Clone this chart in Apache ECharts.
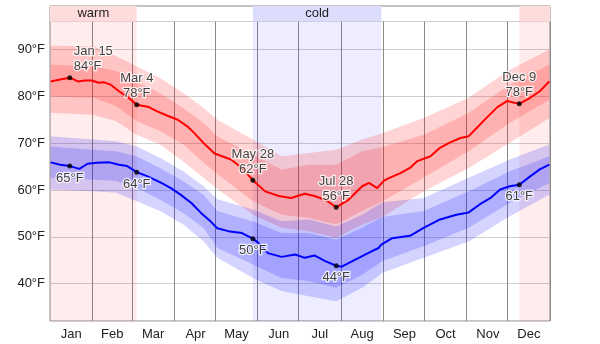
<!DOCTYPE html>
<html>
<head>
<meta charset="utf-8">
<script src="https://cdn.jsdelivr.net/npm/echarts@6/dist/echarts.min.js"></script>
<style>
html,body{margin:0;padding:0;background:#fff;}
#chart{width:600px;height:344px;}
</style>
</head>
<body>
<div id="chart"></div>
<script>
// ---------- data ----------
const months = ['Jan','Feb','Mar','Apr','May','Jun','Jul','Aug','Sep','Oct','Nov','Dec'];
const monthLengths = [31,29,31,30,31,30,31,31,30,31,30,31];
const yTicks = [40,50,60,70,80,90];

// average daily high (day index 0 = Jan 1)
const highDays = [0,7,14,20,25,30,35,39,44,50,57,63,71,78,86,93,100,105,113,120,132,140,148,157,167,176,186,193,201,209,218,228,233,239,244,248,256,263,268,278,285,292,300,306,312,319,327,334,343,351,358,365];
const highTemps = [83.2,83.6,84.0,83.2,83.4,83.4,82.9,83.0,82.5,81.1,79.7,78.2,77.8,76.8,75.8,75.0,73.6,72.2,69.7,67.8,66.5,64.7,62.1,59.7,58.7,58.3,59.2,58.7,57.9,56.3,57.9,60.8,61.5,60.4,62.0,62.6,63.6,64.7,66.1,67.2,69.0,70.1,71.1,71.5,73.3,75.4,77.7,79.0,78.4,79.7,81.1,83.2];

// average daily low
const lowDays = [0,7,14,21,27,34,43,50,56,63,71,81,88,95,103,110,117,122,130,140,148,152,159,169,179,186,193,201,209,213,223,233,240,242,250,263,273,285,297,306,314,322,329,336,343,351,358,365];
const lowTemps = [65.9,65.4,65.1,64.5,65.6,65.8,65.9,65.4,65.1,63.8,62.9,61.5,60.4,59.0,57.2,55.1,53.3,51.8,51.2,50.8,49.6,48.7,46.5,45.7,46.2,45.5,46.0,44.8,43.8,43.6,45.1,46.6,47.6,48.3,49.7,50.2,51.9,53.7,54.7,55.2,56.9,58.3,60.1,60.8,61.1,62.9,64.4,65.4];

// percentile bands (10th / 25th / 75th / 90th)
const bandDays = [0,31,48,63,80,97,112,122,148,169,189,209,228,243,273,306,336,365];
const highP90 = [90.8,90.7,88.6,86.4,83.9,80.7,77.5,75.0,70.8,67.2,67.9,68.6,70.8,72.2,75.4,79.7,85.7,90.0];
const highP75 = [86.8,86.4,85.4,83.2,80.7,77.5,74.3,71.5,67.6,64.4,65.4,65.4,68.3,69.2,71.8,76.5,82.5,86.8];
const highP25 = [80.0,79.7,77.9,74.7,72.6,69.7,65.8,63.4,57.6,54.7,54.0,52.6,55.5,57.6,62.6,68.3,74.3,79.3];
const highP10 = [76.5,76.1,74.7,71.8,69.7,66.1,62.6,60.2,54.7,51.9,51.2,49.8,52.6,54.2,59.7,64.7,70.1,75.4];
const lowP90 = [71.5,70.8,70.4,69.3,66.9,64.0,60.8,58.0,55.8,53.3,53.7,52.2,54.7,57.4,58.3,62.6,66.5,69.7];
const lowP75 = [69.3,68.6,68.3,67.2,64.7,61.9,59.0,55.5,53.3,50.8,50.8,49.4,51.9,54.3,55.5,59.7,64.0,67.2];
const lowP25 = [62.6,62.2,61.9,60.4,57.9,55.1,51.8,47.6,44.1,41.2,40.5,39.1,41.9,44.8,48.0,51.9,57.2,61.5];
const lowP10 = [60.1,59.7,59.4,57.6,55.5,52.6,49.0,45.5,41.2,38.4,37.3,36.2,39.1,42.3,45.5,49.0,54.4,59.0];

// annotated days
const markerDates = ['Jan 15','Mar 4','May 28','Jul 28','Dec 9'];
const markerHighLabels = [84,78,62,56,78];
const markerLowLabels = [65,64,50,44,61];

// seasons
const warmSeason = {name:'warm', from:'Dec 9', to:'Mar 4'};
const coldSeason = {name:'cold', from:'May 28', to:'Aug 30'};

// ---------- helpers ----------
const dayLabels = [];
const monthStartIdx = [];
const monthMidIdx = [];
{
  let c = 0;
  months.forEach((m, i) => {
    monthStartIdx.push(c);
    monthMidIdx.push(c + Math.floor(monthLengths[i] / 2));
    for (let d = 1; d <= monthLengths[i]; d++) dayLabels.push(m + ' ' + d);
    c += monthLengths[i];
  });
}
const nDays = dayLabels.length;
const idxOf = s => dayLabels.indexOf(s);
const zip = (xs, ys) => xs.map((x, i) => [x, ys[i]]);
const diff = (a, b, xs) => xs.map((x, i) => [x, +(a[i] - b[i]).toFixed(2)]);
const valueAt = (xs, ys, d) => ys[xs.indexOf(d)];

const X0 = -0.5, X1 = nDays - 0.5;
const FONT = '"Liberation Sans", Arial, sans-serif';
const CAT = 2; // category x axis index of main grid

function bandSeries(stack, p10, p25, p75, p90, rgb) {
  const base = {type:'line', xAxisIndex:CAT, yAxisIndex:1, stack, symbol:'none', silent:true,
    lineStyle:{width:0, opacity:0}, z:2};
  return [
    Object.assign({}, base, {data: zip(bandDays, p10), areaStyle:{opacity:0}}),
    Object.assign({}, base, {data: diff(p25, p10, bandDays), areaStyle:{color:`rgba(${rgb},0.17)`, opacity:1}}),
    Object.assign({}, base, {data: diff(p75, p25, bandDays), areaStyle:{color:`rgba(${rgb},0.31)`, opacity:1}}),
    Object.assign({}, base, {data: diff(p90, p75, bandDays), areaStyle:{color:`rgba(${rgb},0.17)`, opacity:1}})
  ];
}

const warmFrom = idxOf(warmSeason.from), warmTo = idxOf(warmSeason.to);
const coldFrom = idxOf(coldSeason.from), coldTo = idxOf(coldSeason.to);

const seasonAreas = (warmColor, coldColor, withText) => [
  [{xAxis: X0, name: withText ? warmSeason.name : '', itemStyle:{color:warmColor}}, {xAxis: warmTo}],
  [{xAxis: coldFrom, name: withText ? coldSeason.name : '', itemStyle:{color:coldColor}}, {xAxis: coldTo}],
  [{xAxis: warmFrom, name: '', itemStyle:{color:warmColor}}, {xAxis: X1}]
];

const highMarkers = markerDates.map((d, i) => {
  const x = idxOf(d);
  const item = {value:[x, valueAt(highDays, highTemps, x)], name:d, lbl:markerHighLabels[i]};
  if (i === 0) item.label = {align:'left', offset:[4, 0]};
  return item;
});
const lowMarkers = markerDates.map((d, i) => {
  const x = idxOf(d);
  return {value:[x, valueAt(lowDays, lowTemps, x)], name:d, lbl:markerLowLabels[i]};
});

const textHalo = {textBorderColor:'#fff', textBorderWidth:2.5, color:'#111', fontFamily:FONT, fontSize:13, lineHeight:15};

const chart = echarts.init(document.getElementById('chart'), null, {renderer:'canvas'});
chart.setOption({
  animation:false,
  backgroundColor:'#fff',
  grid:[
    {left:50, right:50, top:6, height:15.5, show:true, borderColor:'#8a8a8a', borderWidth:1, backgroundColor:'transparent'},
    {left:50, right:50, top:21.5, bottom:23, show:true, borderColor:'#8a8a8a', borderWidth:1, backgroundColor:'transparent'}
  ],
  xAxis:[
    {gridIndex:0, type:'value', min:X0, max:X1, show:false, position:'bottom'},
    {gridIndex:1, type:'value', min:X0, max:X1, show:false, position:'top'},
    {gridIndex:1, type:'category', data:dayLabels, boundaryGap:true, position:'bottom',
      axisLine:{show:false}, axisTick:{show:false},
      axisLabel:{interval:(i) => monthMidIdx.includes(i), formatter:v => v.split(' ')[0],
        color:'#222', fontFamily:FONT, fontSize:13, margin:7},
      splitLine:{show:true, interval:(i) => i > 0 && monthStartIdx.includes(i), lineStyle:{color:'#8a8a8a', width:1}}
    }
  ],
  yAxis:[
    {gridIndex:0, type:'value', min:0, max:1, show:false},
    {gridIndex:1, type:'value', min:32, max:96, splitNumber:6,
      axisLine:{show:false}, axisTick:{show:false},
      axisLabel:{showMinLabel:false, showMaxLabel:false, formatter:v => yTicks.includes(v) ? v + '°F' : '',
        color:'#222', fontFamily:FONT, fontSize:13, margin:5},
      splitLine:{show:true, lineStyle:{color:'#cfcfcf', width:1}}
    }
  ],
  series:[
    {type:'line', xAxisIndex:0, yAxisIndex:0, data:[], silent:true,
      markArea:{silent:true, data:seasonAreas('#ffdcdc', '#dcdcfd', true),
        label:{show:true, position:'inside', color:'#222', fontFamily:FONT, fontSize:13}}},
    {type:'line', xAxisIndex:1, yAxisIndex:1, data:[], silent:true, z:1,
      markArea:{silent:true, data:seasonAreas('rgba(255,0,0,0.075)', 'rgba(0,0,255,0.07)', false), label:{show:false}}},
    ...bandSeries('high', highP10, highP25, highP75, highP90, '255,0,0'),
    ...bandSeries('low', lowP10, lowP25, lowP75, lowP90, '0,0,255'),
    {type:'line', xAxisIndex:CAT, yAxisIndex:1, data:zip(highDays, highTemps), symbol:'none',
      lineStyle:{color:'#ff0000', width:2}, z:5},
    {type:'line', xAxisIndex:CAT, yAxisIndex:1, data:zip(lowDays, lowTemps), symbol:'none',
      lineStyle:{color:'#0000ff', width:2}, z:5},
    {type:'scatter', xAxisIndex:CAT, yAxisIndex:1, data:highMarkers, symbolSize:5,
      itemStyle:{color:'#000'}, z:6,
      label:Object.assign({show:true, position:'top', distance:1, formatter:p => p.name + '\n' + p.data.lbl + '°F'}, textHalo)},
    {type:'scatter', xAxisIndex:CAT, yAxisIndex:1, data:lowMarkers, symbolSize:5,
      itemStyle:{color:'#000'}, z:6,
      label:Object.assign({show:true, position:'bottom', distance:2, formatter:p => p.data.lbl + '°F'}, textHalo)}
  ]
});
</script>
</body>
</html>
